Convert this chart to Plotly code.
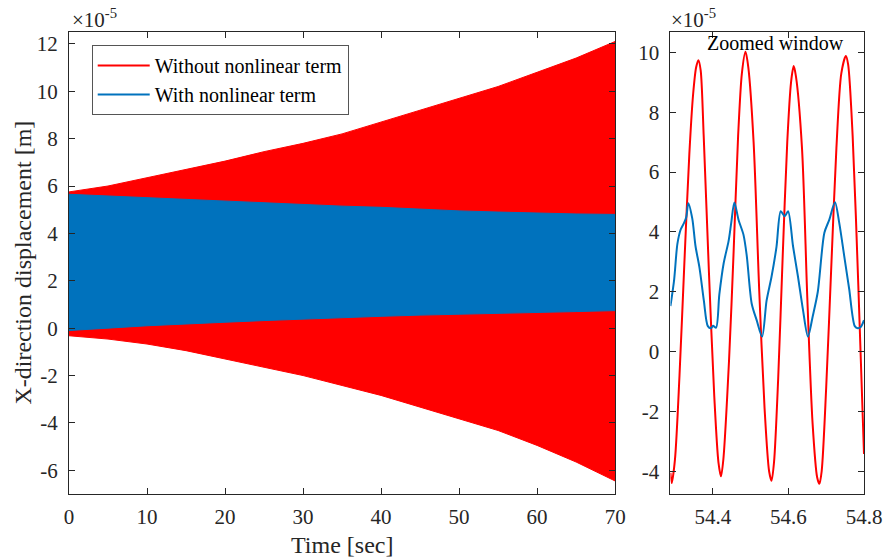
import plotly.graph_objects as go

# ---------------- Left panel: envelopes (x1e-5 m) ----------------
t_env = [0, 5, 10, 15, 20, 25, 30, 35, 40, 45, 50, 55, 60, 65, 70]
red_upper = [5.75, 6.0, 6.35, 6.7, 7.05, 7.45, 7.8, 8.2, 8.7, 9.2, 9.7, 10.2, 10.8, 11.4, 12.1]
red_lower = [-0.32, -0.46, -0.67, -0.95, -1.3, -1.65, -2.0, -2.42, -2.84, -3.35, -3.82, -4.32, -4.95, -5.65, -6.45]
blue_upper = [5.65, 5.58, 5.5, 5.43, 5.35, 5.28, 5.2, 5.15, 5.1, 5.02, 4.95, 4.9, 4.85, 4.82, 4.8]
blue_lower = [-0.1, 0.0, 0.1, 0.18, 0.25, 0.32, 0.39, 0.45, 0.5, 0.55, 0.6, 0.64, 0.67, 0.7, 0.74]

# ---------------- Right panel: zoomed window samples ----------------
t_red = [54.288, 54.2915, 54.300, 54.312, 54.325, 54.338, 54.348, 54.356, 54.362, 54.368,
         54.376, 54.390, 54.404, 54.415, 54.4218, 54.428, 54.443, 54.455, 54.467, 54.477,
         54.4865, 54.494, 54.508, 54.523, 54.537, 54.549, 54.5554, 54.562, 54.573, 54.585,
         54.597, 54.607, 54.614, 54.620, 54.636, 54.650, 54.664, 54.676, 54.682, 54.688,
         54.700, 54.714, 54.727, 54.740, 54.752, 54.758, 54.770, 54.785, 54.800]
y_red = [-4.05, -4.39, -3.6, -0.8, 3.0, 6.6, 8.6, 9.5, 9.74, 9.4,
         7.2, 2.6, -1.5, -3.7, -4.17, -3.6, -0.3, 3.3, 7.2, 9.3,
         10.02, 9.5, 7.0, 2.0, -1.9, -4.0, -4.32, -3.7, -0.9, 3.2,
         7.0, 9.0, 9.54, 9.2, 6.8, 1.8, -2.4, -4.2, -4.42, -4.0,
         -1.2, 3.0, 6.8, 9.3, 9.88, 9.6, 7.2, 2.2, -3.42]

t_blue = [54.288, 54.2978, 54.3064, 54.3151, 54.3240, 54.3300, 54.3353, 54.3457, 54.3544, 54.3649,
          54.3764, 54.3869, 54.3955, 54.4008, 54.4087, 54.4173, 54.4288, 54.4419, 54.4488, 54.4571,
          54.4682, 54.4813, 54.4899, 54.5030, 54.5161, 54.5305, 54.5423, 54.5554, 54.5685, 54.5798,
          54.5903, 54.5992, 54.6123, 54.6254, 54.6385, 54.6516, 54.6647, 54.6778, 54.6952, 54.7083,
          54.7232, 54.7345, 54.7476, 54.7607, 54.7756, 54.7835, 54.7913, 54.8000]
y_blue = [1.52, 2.4, 3.6, 4.08, 4.3, 4.5, 4.96, 4.45, 3.52, 2.8,
          1.7, 0.85, 0.78, 0.86, 0.8, 1.9, 2.95, 3.7, 4.3, 4.98,
          4.4, 3.9, 3.2, 1.6, 1.05, 0.5, 1.7, 2.5, 3.5, 4.69,
          4.52, 4.69, 3.52, 2.5, 1.4, 0.5, 1.2, 2.0, 3.97, 4.41,
          4.99, 4.3, 3.2, 2.1, 0.85, 0.78, 0.82, 1.05]

RED = "#FF0000"
BLUE = "#0072BD"
AX = "#262626"
FONT = "Liberation Serif, Times New Roman, serif"

fig = go.Figure()

fig.add_trace(go.Scatter(x=t_env + t_env[::-1], y=red_upper + red_lower[::-1],
                         fill="toself", fillcolor=RED, mode="lines",
                         line=dict(color=RED, width=1), showlegend=False,
                         hoverinfo="skip", xaxis="x", yaxis="y"))
fig.add_trace(go.Scatter(x=t_env + t_env[::-1], y=blue_upper + blue_lower[::-1],
                         fill="toself", fillcolor=BLUE, mode="lines",
                         line=dict(color=BLUE, width=1), showlegend=False,
                         hoverinfo="skip", xaxis="x", yaxis="y"))

fig.add_trace(go.Scatter(x=t_red, y=y_red, mode="lines", name="Without nonlinear term",
                         line=dict(color=RED, width=2, shape="spline", smoothing=0.8),
                         xaxis="x2", yaxis="y2"))
fig.add_trace(go.Scatter(x=t_blue, y=y_blue, mode="lines", name="With nonlinear term",
                         line=dict(color=BLUE, width=2, shape="spline", smoothing=0.8),
                         xaxis="x2", yaxis="y2"))

L, R, T, B = 69, 20, 32, 66
W, H = 894, 560
PW, PH = W - L - R, H - T - B


def px(x):
    return (x - L) / PW


def py(y):
    return (H - B - y) / PH


axis_common = dict(showline=True, mirror="ticks", linecolor=AX, linewidth=1,
                   ticks="inside", ticklen=6, tickcolor=AX, showgrid=False,
                   zeroline=False, tickfont=dict(family=FONT, size=21, color=AX))

left_yt = [-6, -4, -2, 0, 2, 4, 6, 8, 10, 12]
right_yt = [-4, -2, 0, 2, 4, 6, 8, 10]
left_xt = [0, 10, 20, 30, 40, 50, 60, 70]
right_xt = [54.4, 54.6, 54.8]

fig.update_layout(
    width=W, height=H,
    margin=dict(l=L, r=R, t=T, b=B),
    paper_bgcolor="white", plot_bgcolor="white",
    font=dict(family=FONT, size=20, color=AX),
    xaxis=dict(domain=[0, px(622)], range=[0, 70], tickvals=left_xt,
               ticktext=[str(v) for v in left_xt], anchor="y", ticklabelstandoff=4, **axis_common),
    yaxis=dict(domain=[0, 1], range=[-7, 12.5], tickvals=left_yt,
               ticktext=[str(v) for v in left_yt], anchor="x", ticklabelstandoff=6, **axis_common),
    xaxis2=dict(domain=[px(678), 1], range=[54.288, 54.8], tickvals=right_xt,
                ticktext=["54.4", "54.6", "54.8"], anchor="y2", ticklabelstandoff=4, **axis_common),
    yaxis2=dict(domain=[0, 1], range=[-4.76, 10.68], tickvals=right_yt,
                ticktext=[str(v) for v in right_yt], anchor="x2", ticklabelstandoff=6, **axis_common),
    legend=dict(x=px(92), y=py(45), xanchor="left", yanchor="top",
                bgcolor="white", bordercolor="#555555", borderwidth=1, itemwidth=52,
                font=dict(family=FONT, size=20, color="black")),
    showlegend=True,
)

ann = [
    dict(text="×10<sup>-5</sup>", x=px(70), y=py(18), xanchor="left", yanchor="middle",
         font=dict(family=FONT, size=21, color=AX)),
    dict(text="×10<sup>-5</sup>", x=px(677), y=py(18), xanchor="left", yanchor="middle",
         font=dict(family=FONT, size=21, color=AX)),
    dict(text="Zoomed window", x=px(784), y=py(43), xanchor="center", yanchor="middle",
         font=dict(family=FONT, size=20, color="black")),
    dict(text="X-direction displacement [m]", x=px(22), y=py(263), xanchor="center",
         yanchor="middle", textangle=-90, font=dict(family=FONT, size=24, color=AX)),
    dict(text="Time [sec]", x=px(345.5), y=py(545), xanchor="center", yanchor="middle",
         font=dict(family=FONT, size=24, color=AX)),
]
for a in ann:
    a.update(xref="paper", yref="paper", showarrow=False)
fig.update_layout(annotations=ann)

fig.write_html("out.html")
